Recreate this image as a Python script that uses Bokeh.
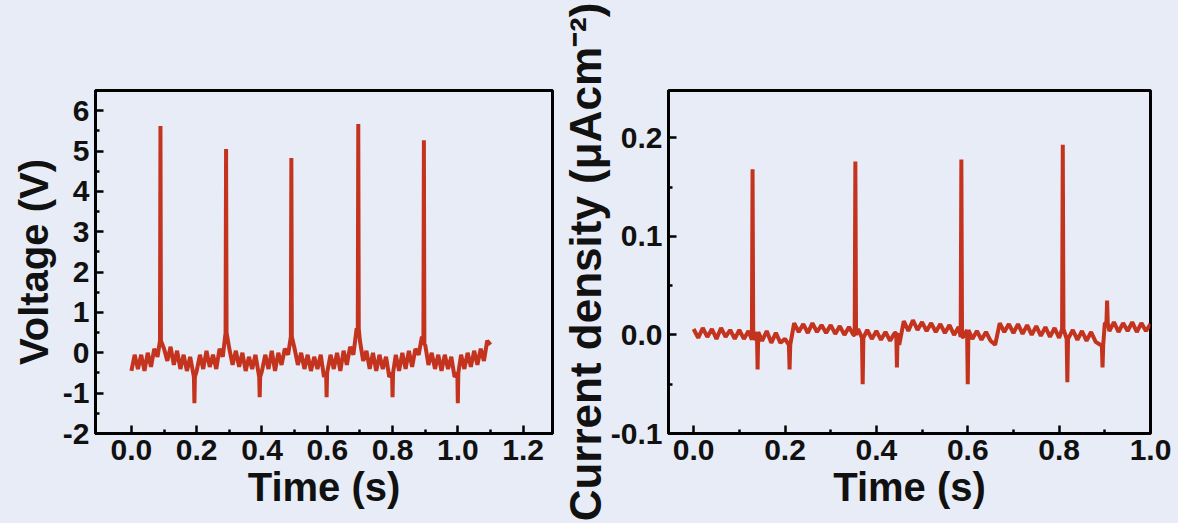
from bokeh.plotting import figure
from bokeh.layouts import row
from bokeh.models import Range1d, FixedTicker, PrintfTickFormatter
from bokeh.embed import file_html
from bokeh.resources import INLINE

# ---------------- data: left panel (Voltage) ----------------
left_dt = 0.01
left_base = [
    -0.45, -0.05, -0.4, -0.05, -0.45, 0.0, -0.35, 0.1, -0.1, 0.3,
    0.1, -0.2, 0.15, -0.3, 0.05, -0.4, -0.05, -0.45, -0.1, -0.6,
    -0.45, -0.05, -0.4, 0.05, -0.35, -0.05, -0.4, 0.1, -0.1, 0.5,
    0.1, -0.3, 0.05, -0.35, 0.0, -0.45, -0.1, -0.4, -0.05, -0.6,
    -0.45, -0.05, -0.4, 0.05, -0.45, 0.0, -0.3, 0.1, -0.05, 0.4,
    0.1, -0.3, 0.0, -0.4, -0.05, -0.45, -0.1, -0.4, -0.05, -0.6,
    -0.5, -0.05, -0.4, 0.0, -0.45, 0.05, -0.3, 0.15, -0.05, 0.6,
    0.3, -0.2, 0.05, -0.4, 0.0, -0.45, -0.05, -0.4, -0.1, -0.6,
    -0.5, -0.05, -0.45, 0.0, -0.4, 0.05, -0.35, 0.1, -0.05, 0.4,
    0.2, -0.3, 0.0, -0.4, -0.05, -0.45, -0.05, -0.4, -0.1, -0.6,
    -0.5, -0.05, -0.4, 0.0, -0.35, 0.05, -0.3, 0.1, -0.2, 0.3, 0.2,
]
left_spike_t = [0.089, 0.290, 0.490, 0.695, 0.896]
left_spike_v = [5.62, 5.05, 4.83, 5.67, 5.27]
left_dip_t = [0.193, 0.393, 0.598, 0.800, 1.000]
left_dip_v = [-1.25, -1.1, -1.1, -1.1, -1.25]

# ---------------- data: right panel (Current density) ----------------
right_dt = 0.01
right_base = [
    0.006, -0.003, 0.007, -0.002, 0.006, -0.004, 0.007, -0.002, 0.005, -0.004,
    0.005, -0.004, 0.004, -0.005, 0.003, -0.006, 0.004, -0.008, 0.002, -0.008,
    -0.004, -0.010, 0.012, 0.003, 0.011, 0.002, 0.012, 0.003, 0.010, 0.002,
    0.010, 0.001, 0.009, 0.000, 0.008, 0.000, 0.006, -0.003, 0.005, -0.004,
    0.004, -0.005, 0.003, -0.006, 0.002, -0.010, 0.014, 0.004, 0.015, 0.005,
    0.013, 0.004, 0.012, 0.003, 0.011, 0.002, 0.010, 0.000, 0.008, -0.002,
    0.005, -0.004, 0.004, -0.005, 0.003, -0.006, -0.010, 0.012, 0.003, 0.011,
    0.002, 0.011, 0.001, 0.010, 0.000, 0.009, -0.001, 0.008, -0.002, 0.007,
    -0.003, 0.006, -0.004, 0.005, -0.005, 0.004, -0.006, 0.003, -0.007, -0.010,
    0.012, 0.004, 0.013, 0.003, 0.012, 0.004, 0.013, 0.003, 0.012, 0.004, 0.011,
]
right_spike_t = [0.129, 0.354, 0.586, 0.808, 0.905]
right_spike_v = [0.168, 0.176, 0.178, 0.193, 0.035]
right_dip_t = [0.140, 0.210, 0.370, 0.445, 0.600, 0.818, 0.895]
right_dip_v = [-0.035, -0.035, -0.050, -0.033, -0.050, -0.048, -0.033]

left_xticks = [0.0, 0.2, 0.4, 0.6, 0.8, 1.0, 1.2]
left_xminor = [0.1, 0.3, 0.5, 0.7, 0.9, 1.1]
left_yticks = [-2, -1, 0, 1, 2, 3, 4, 5, 6]
left_yminor = [-1.5, -0.5, 0.5, 1.5, 2.5, 3.5, 4.5, 5.5]
right_xticks = [0.0, 0.2, 0.4, 0.6, 0.8, 1.0]
right_xminor = [0.1, 0.3, 0.5, 0.7, 0.9]
right_yticks = [-0.1, 0.0, 0.1, 0.2]
right_yminor = [-0.05, 0.05, 0.15]
right_ylabel = "Current density (\u03bcAcm\u207b\u00b2)"

RED = "#c4331e"
BG = "#e8ecf6"
FONT = "Liberation Sans"


def merge(base, dt, ev_t, ev_v):
    """Insert narrow events into the sampled baseline; the shoulders keep the
    nearest baseline value so each event is drawn as a thin vertical line."""
    events = list(zip(ev_t, ev_v))
    grid = [(round(i * dt, 4), v) for i, v in enumerate(base)]
    pts = [(t, v) for t, v in grid if not any(abs(t - et) < 0.004 for et, _ in events)]
    for et, ev in events:
        near = min(grid, key=lambda g: abs(g[0] - et))[1]
        pts += [(et - 0.0015, near), (et, ev), (et + 0.0015, near)]
    pts.sort()
    return [p[0] for p in pts], [p[1] for p in pts]


def style(p, xt, xm, yt, ym, xfmt, yfmt):
    p.xaxis.ticker = FixedTicker(ticks=xt, minor_ticks=xm)
    p.yaxis.ticker = FixedTicker(ticks=yt, minor_ticks=ym)
    p.xaxis.formatter = PrintfTickFormatter(format=xfmt)
    p.yaxis.formatter = PrintfTickFormatter(format=yfmt)
    for ax in (p.xaxis, p.yaxis):
        ax.axis_line_width = 3
        ax.axis_line_color = "black"
        ax.major_tick_in = 8
        ax.major_tick_out = 0
        ax.minor_tick_in = 4
        ax.minor_tick_out = 0
        ax.major_tick_line_width = 2.5
        ax.minor_tick_line_width = 2.5
        ax.major_label_text_font = FONT
        ax.major_label_text_font_style = "bold"
        ax.major_label_text_font_size = "30px"
        ax.major_label_text_color = "#111111"
        ax.axis_label_text_font = FONT
        ax.axis_label_text_font_style = "bold"
        ax.axis_label_text_color = "#111111"
        ax.axis_label_text_font_size = "40px"
        ax.major_label_standoff = 6
    p.xaxis.axis_label = "Time (s)"
    p.xaxis.axis_label_standoff = 2
    p.xgrid.visible = False
    p.ygrid.visible = False
    p.outline_line_color = "black"
    p.outline_line_width = 3
    p.background_fill_color = BG
    p.border_fill_color = BG


lt, lv = merge(left_base, left_dt, left_spike_t + left_dip_t, left_spike_v + left_dip_v)
rt, rv = merge(right_base, right_dt, right_spike_t + right_dip_t, right_spike_v + right_dip_v)

p1 = figure(width=555, height=523, output_backend="svg", toolbar_location=None,
            x_range=Range1d(-0.11, 1.29), y_range=Range1d(-2, 6.5),
            min_border_left=95, min_border_right=3, min_border_top=90, min_border_bottom=90)
p1.line(lt, lv, line_color=RED, line_width=4)
style(p1, left_xticks, left_xminor, left_yticks, left_yminor, "%.1f", "%d")
p1.yaxis.axis_label = "Voltage (V)"
p1.yaxis.axis_label_standoff = 4

p2 = figure(width=623, height=523, output_backend="svg", toolbar_location=None,
            x_range=Range1d(-0.055, 1.0), y_range=Range1d(-0.1, 0.248),
            min_border_left=113, min_border_right=28, min_border_top=83, min_border_bottom=90)
p2.line(rt, rv, line_color=RED, line_width=4)
style(p2, right_xticks, right_xminor, right_yticks, right_yminor, "%.1f", "%.1f")
p2.yaxis.axis_label = right_ylabel
p2.yaxis.axis_label_text_font_size = "44px"
p2.yaxis.axis_label_standoff = -2

layout = row(p1, p2, spacing=0)
layout.styles = {"background-color": BG}
open("out.html", "w").write(file_html(layout, INLINE))
